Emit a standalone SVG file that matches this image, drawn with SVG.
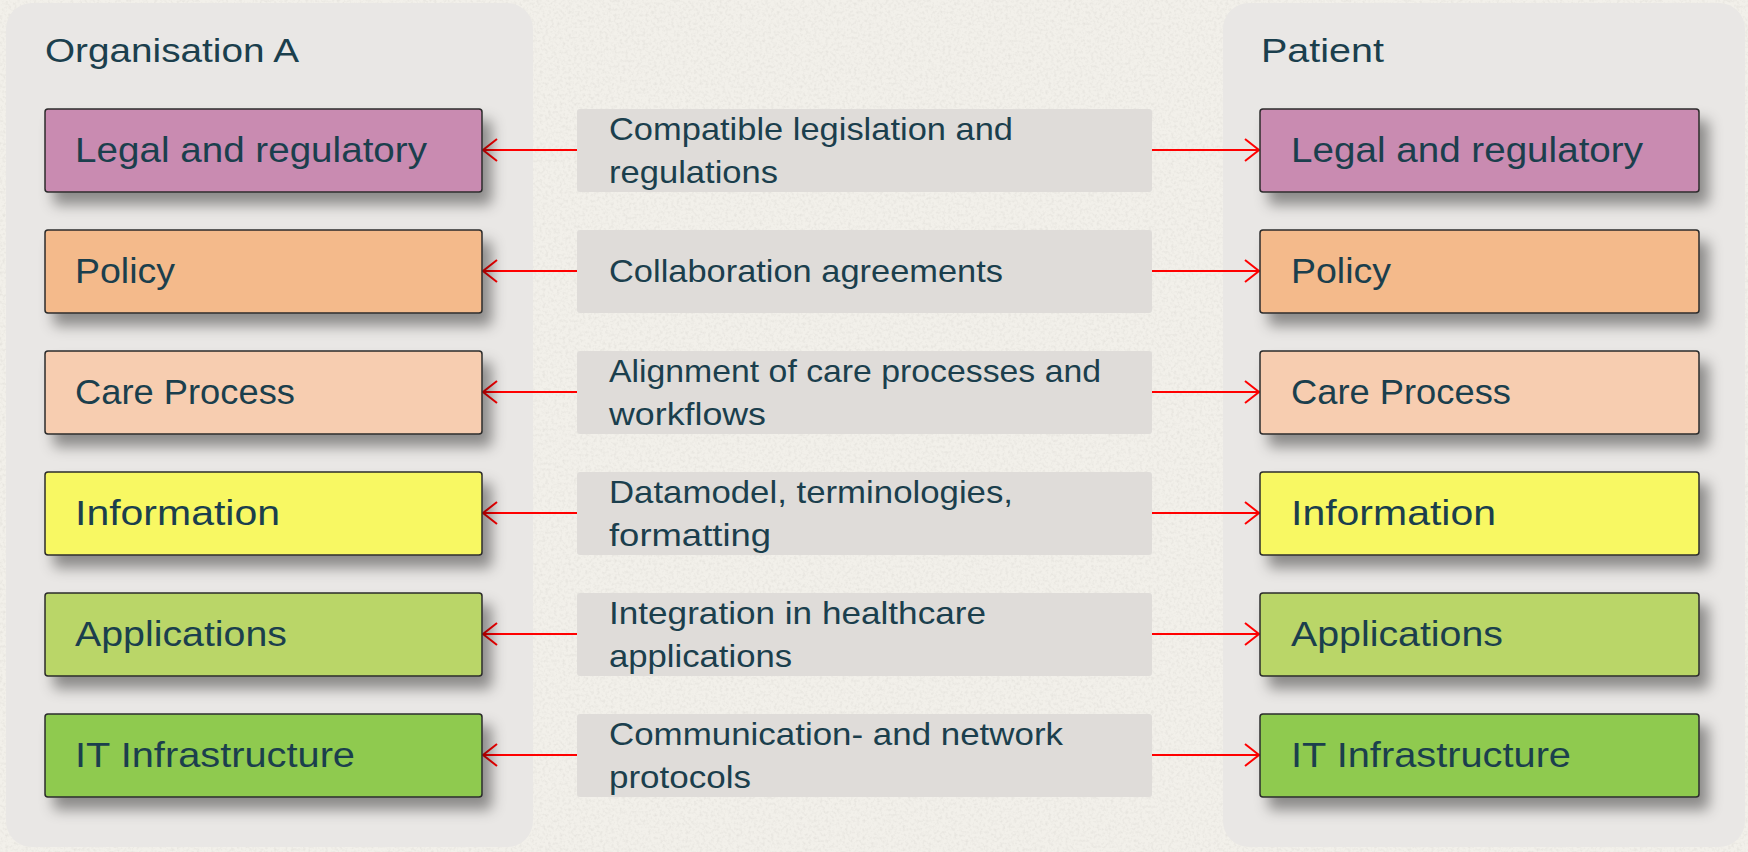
<svg xmlns="http://www.w3.org/2000/svg" width="1748" height="852" viewBox="0 0 1748 852">
<defs>
<style>
.panel{fill:#e9e7e5;}
.box{stroke:#2b2b2b;stroke-width:1.5;}
.lbl{fill:#dfdcd9;}
.t{font-family:"Liberation Sans",Arial,sans-serif;fill:#1b3f4d;}
.title{font-size:34px;}
.bt{font-size:35px;}
.mt{font-size:32px;}
.conn{stroke:#ff0000;stroke-width:2;fill:none;}
</style>
<filter id="sh" x="-10%" y="-25%" width="130%" height="170%">
<feGaussianBlur in="SourceAlpha" stdDeviation="7"/>
<feOffset dx="9" dy="12" result="b"/>
<feFlood flood-color="#000" flood-opacity="0.4"/>
<feComposite in2="b" operator="in"/>
<feMerge><feMergeNode/><feMergeNode in="SourceGraphic"/></feMerge>
</filter>
<filter id="tex" x="0" y="0" width="100%" height="100%">
<feTurbulence type="fractalNoise" baseFrequency="0.35" numOctaves="2" seed="3"/>
<feColorMatrix type="matrix" values="0 0 0 0 0.55  0 0 0 0 0.53  0 0 0 0 0.5  0 0 0 -2.2 1.25"/>
</filter>
<marker id="ah" viewBox="0 0 16 24" refX="15" refY="12" markerWidth="16" markerHeight="24" markerUnits="userSpaceOnUse" orient="auto">
<path d="M1,1 L15,12 L1,23" fill="none" stroke="#ff0000" stroke-width="2"/>
</marker>
</defs>
<rect width="1748" height="852" fill="#f2f0ea"/>
<rect width="1748" height="852" filter="url(#tex)" opacity="0.25"/>

<g id="panel-org">
<rect class="panel" x="6" y="3" width="527" height="844" rx="26"/>
<text class="t title" x="45" y="62" textLength="254" lengthAdjust="spacingAndGlyphs">Organisation A</text>
</g>
<g id="panel-patient">
<rect class="panel" x="1223" y="3" width="522" height="844" rx="26"/>
<text class="t title" x="1261" y="62" textLength="123" lengthAdjust="spacingAndGlyphs">Patient</text>
</g>

<g id="connectors">
<line class="conn" x1="577" y1="150" x2="483" y2="150" marker-end="url(#ah)"/>
<line class="conn" x1="1152" y1="150" x2="1259" y2="150" marker-end="url(#ah)"/>
<line class="conn" x1="577" y1="271" x2="483" y2="271" marker-end="url(#ah)"/>
<line class="conn" x1="1152" y1="271" x2="1259" y2="271" marker-end="url(#ah)"/>
<line class="conn" x1="577" y1="392" x2="483" y2="392" marker-end="url(#ah)"/>
<line class="conn" x1="1152" y1="392" x2="1259" y2="392" marker-end="url(#ah)"/>
<line class="conn" x1="577" y1="513" x2="483" y2="513" marker-end="url(#ah)"/>
<line class="conn" x1="1152" y1="513" x2="1259" y2="513" marker-end="url(#ah)"/>
<line class="conn" x1="577" y1="634" x2="483" y2="634" marker-end="url(#ah)"/>
<line class="conn" x1="1152" y1="634" x2="1259" y2="634" marker-end="url(#ah)"/>
<line class="conn" x1="577" y1="755" x2="483" y2="755" marker-end="url(#ah)"/>
<line class="conn" x1="1152" y1="755" x2="1259" y2="755" marker-end="url(#ah)"/>
</g>

<g id="org-legal">
<rect class="box" x="45" y="109" width="437" height="83" rx="3" fill="#c98bb1" filter="url(#sh)"/>
<text class="t bt" x="75" y="162" textLength="352" lengthAdjust="spacingAndGlyphs">Legal and regulatory</text>
</g>
<g id="org-policy">
<rect class="box" x="45" y="230" width="437" height="83" rx="3" fill="#f4ba8b" filter="url(#sh)"/>
<text class="t bt" x="75" y="283" textLength="100" lengthAdjust="spacingAndGlyphs">Policy</text>
</g>
<g id="org-care">
<rect class="box" x="45" y="351" width="437" height="83" rx="3" fill="#f7cdb0" filter="url(#sh)"/>
<text class="t bt" x="75" y="404" textLength="220" lengthAdjust="spacingAndGlyphs">Care Process</text>
</g>
<g id="org-info">
<rect class="box" x="45" y="472" width="437" height="83" rx="3" fill="#f8f864" filter="url(#sh)"/>
<text class="t bt" x="75" y="525" textLength="205" lengthAdjust="spacingAndGlyphs">Information</text>
</g>
<g id="org-apps">
<rect class="box" x="45" y="593" width="437" height="83" rx="3" fill="#bad667" filter="url(#sh)"/>
<text class="t bt" x="75" y="646" textLength="212" lengthAdjust="spacingAndGlyphs">Applications</text>
</g>
<g id="org-it">
<rect class="box" x="45" y="714" width="437" height="83" rx="3" fill="#8fca50" filter="url(#sh)"/>
<text class="t bt" x="75" y="767" textLength="280" lengthAdjust="spacingAndGlyphs">IT Infrastructure</text>
</g>

<g id="pat-legal">
<rect class="box" x="1260" y="109" width="439" height="83" rx="3" fill="#c98bb1" filter="url(#sh)"/>
<text class="t bt" x="1291" y="162" textLength="352" lengthAdjust="spacingAndGlyphs">Legal and regulatory</text>
</g>
<g id="pat-policy">
<rect class="box" x="1260" y="230" width="439" height="83" rx="3" fill="#f4ba8b" filter="url(#sh)"/>
<text class="t bt" x="1291" y="283" textLength="100" lengthAdjust="spacingAndGlyphs">Policy</text>
</g>
<g id="pat-care">
<rect class="box" x="1260" y="351" width="439" height="83" rx="3" fill="#f7cdb0" filter="url(#sh)"/>
<text class="t bt" x="1291" y="404" textLength="220" lengthAdjust="spacingAndGlyphs">Care Process</text>
</g>
<g id="pat-info">
<rect class="box" x="1260" y="472" width="439" height="83" rx="3" fill="#f8f864" filter="url(#sh)"/>
<text class="t bt" x="1291" y="525" textLength="205" lengthAdjust="spacingAndGlyphs">Information</text>
</g>
<g id="pat-apps">
<rect class="box" x="1260" y="593" width="439" height="83" rx="3" fill="#bad667" filter="url(#sh)"/>
<text class="t bt" x="1291" y="646" textLength="212" lengthAdjust="spacingAndGlyphs">Applications</text>
</g>
<g id="pat-it">
<rect class="box" x="1260" y="714" width="439" height="83" rx="3" fill="#8fca50" filter="url(#sh)"/>
<text class="t bt" x="1291" y="767" textLength="280" lengthAdjust="spacingAndGlyphs">IT Infrastructure</text>
</g>

<g id="lbl-legal">
<rect class="lbl" x="577" y="109" width="575" height="83" rx="3"/>
<text class="t mt" x="609" y="140" textLength="404" lengthAdjust="spacingAndGlyphs">Compatible legislation and</text>
<text class="t mt" x="609" y="183" textLength="169" lengthAdjust="spacingAndGlyphs">regulations</text>
</g>
<g id="lbl-policy">
<rect class="lbl" x="577" y="230" width="575" height="83" rx="3"/>
<text class="t mt" x="609" y="282" textLength="394" lengthAdjust="spacingAndGlyphs">Collaboration agreements</text>
</g>
<g id="lbl-care">
<rect class="lbl" x="577" y="351" width="575" height="83" rx="3"/>
<text class="t mt" x="609" y="382" textLength="492" lengthAdjust="spacingAndGlyphs">Alignment of care processes and</text>
<text class="t mt" x="609" y="425" textLength="157" lengthAdjust="spacingAndGlyphs">workflows</text>
</g>
<g id="lbl-info">
<rect class="lbl" x="577" y="472" width="575" height="83" rx="3"/>
<text class="t mt" x="609" y="503" textLength="404" lengthAdjust="spacingAndGlyphs">Datamodel, terminologies,</text>
<text class="t mt" x="609" y="546" textLength="162" lengthAdjust="spacingAndGlyphs">formatting</text>
</g>
<g id="lbl-apps">
<rect class="lbl" x="577" y="593" width="575" height="83" rx="3"/>
<text class="t mt" x="609" y="624" textLength="377" lengthAdjust="spacingAndGlyphs">Integration in healthcare</text>
<text class="t mt" x="609" y="667" textLength="183" lengthAdjust="spacingAndGlyphs">applications</text>
</g>
<g id="lbl-it">
<rect class="lbl" x="577" y="714" width="575" height="83" rx="3"/>
<text class="t mt" x="609" y="745" textLength="454" lengthAdjust="spacingAndGlyphs">Communication- and network</text>
<text class="t mt" x="609" y="788" textLength="142" lengthAdjust="spacingAndGlyphs">protocols</text>
</g>
</svg>
